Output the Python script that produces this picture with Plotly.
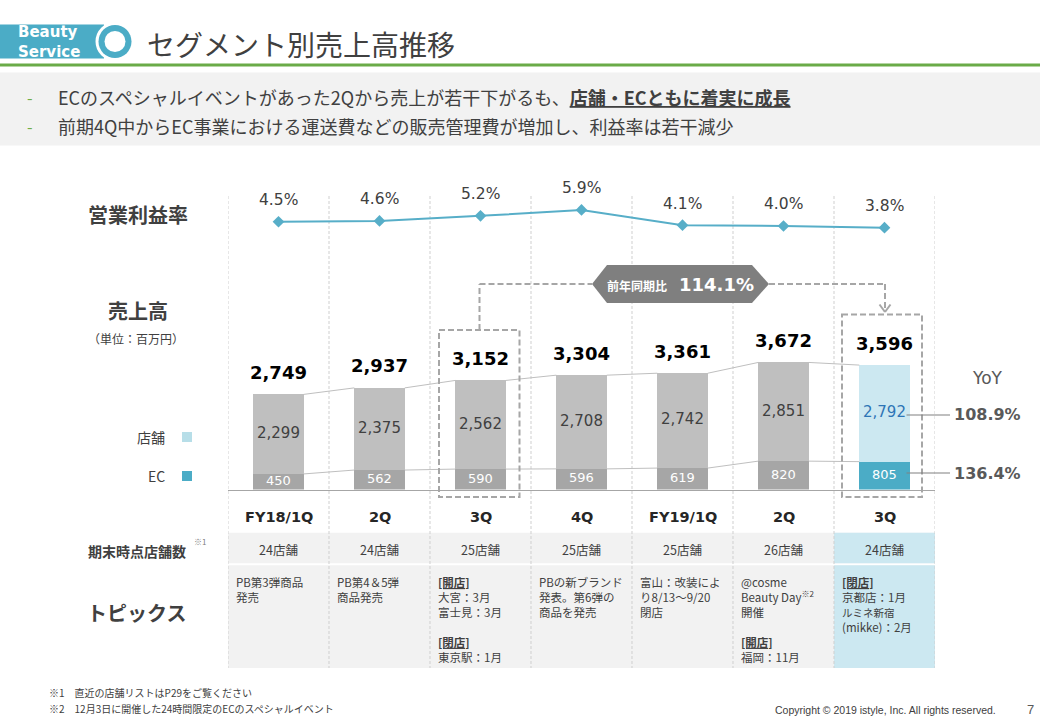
import plotly.graph_objects as go

W, H = 1040, 720
def X(px): return px / W
def Y(py): return 1 - py / H

# ---------------- data ----------------
categories = ["FY18/1Q", "2Q", "3Q", "4Q", "FY19/1Q", "2Q", "3Q"]
store_sales = [2299, 2375, 2562, 2708, 2742, 2851, 2792]
ec_sales = [450, 562, 590, 596, 619, 820, 805]
total_sales = [2749, 2937, 3152, 3304, 3361, 3672, 3596]
op_margin = [4.5, 4.6, 5.2, 5.9, 4.1, 4.0, 3.8]
store_counts = ["24店舗", "24店舗", "25店舗", "25店舗", "25店舗", "26店舗", "24店舗"]
topics = [
    "PB第3弾商品<br>発売",
    "PB第4＆5弾<br>商品発売",
    "<b><u>[開店]</u></b><br>大宮：3月<br>富士見：3月<br>　<br><b><u>[閉店]</u></b><br>東京駅：1月",
    "PBの新ブランド<br>発表。第6弾の<br>商品を発売",
    "富山：改装によ<br>り8/13～9/20<br>閉店",
    "@cosme<br>Beauty Day<sup>※2</sup><br>開催<br>　<br><b><u>[開店]</u></b><br>福岡：11月",
    "<b><u>[閉店]</u></b><br>京都店：1月<br><span style='font-size:10.5px'>ルミネ新宿</span><br>(mikke)：2月",
]
yoy_store = "108.9%"
yoy_ec = "136.4%"
yoy_total = "114.1%"

# ---------------- styles ----------------
JP = "Noto Sans CJK JP"
NUM = "DejaVu Sans"
TXT = "#404040"
TEAL = "#4BACC6"
n = len(categories)
xs = list(range(n))
store_colors = ["#BFBFBF"] * (n - 1) + ["#CCE8F1"]
ec_colors = ["#A6A6A6"] * (n - 1) + [TEAL]
store_lbl_colors = [TXT] * (n - 1) + ["#2E75B6"]

fig = go.Figure()

# bars
fig.add_trace(go.Bar(x=xs, y=ec_sales, width=0.5, marker=dict(color=ec_colors, line=dict(width=0)),
                     hoverinfo="skip", name="EC"))
fig.add_trace(go.Bar(x=xs, y=store_sales, width=0.5, marker=dict(color=store_colors, line=dict(width=0)),
                     hoverinfo="skip", name="店舗"))

# connector lines between bars
cx, cy_tot, cy_ec = [], [], []
for i in range(n - 1):
    cx += [i + 0.25, i + 0.75, None]
    cy_tot += [total_sales[i], total_sales[i + 1], None]
    cy_ec += [ec_sales[i], ec_sales[i + 1], None]
fig.add_trace(go.Scatter(x=cx, y=cy_tot, mode="lines", line=dict(color="#BFBFBF", width=1), hoverinfo="skip"))
fig.add_trace(go.Scatter(x=cx, y=cy_ec, mode="lines", line=dict(color="#BFBFBF", width=1), hoverinfo="skip"))

# in-bar labels
fig.add_trace(go.Scatter(x=xs, y=[e + s / 2 for e, s in zip(ec_sales, store_sales)], mode="text",
                         text=[f"{v:,}" for v in store_sales], textposition="middle center",
                         textfont=dict(family=NUM, size=15, color=store_lbl_colors), cliponaxis=False,
                         hoverinfo="skip"))
fig.add_trace(go.Scatter(x=xs, y=[e / 2 for e in ec_sales], mode="text",
                         text=[f"{v:,}" for v in ec_sales], textposition="middle center",
                         textfont=dict(family=NUM, size=13, color="white"), cliponaxis=False,
                         hoverinfo="skip"))

# operating margin line
fig.add_trace(go.Scatter(x=xs, y=op_margin, xaxis="x2", yaxis="y2", mode="lines+markers",
                         line=dict(color="#57AEC8", width=2),
                         marker=dict(symbol="diamond", size=9, color="#57AEC8"),
                         cliponaxis=False, hoverinfo="skip"))

bar_dom = [Y(489.5), Y(300)]
bar_range = [0, 189.5 / 0.0346]
line_dom = [Y(259.7), Y(180)]
line_range = [0, 79.7 / 8.43]

fig.update_layout(
    width=W, height=H, margin=dict(l=0, r=0, t=0, b=0), autosize=False,
    paper_bgcolor="white", plot_bgcolor="rgba(0,0,0,0)",
    showlegend=False, barmode="stack",
    xaxis=dict(domain=[X(228), X(935)], range=[-0.5, n - 0.5], showgrid=False, zeroline=False,
               showticklabels=False, ticks="", showline=True, linecolor="#A6A6A6", linewidth=1,
               fixedrange=True),
    yaxis=dict(domain=bar_dom, range=bar_range, visible=False, fixedrange=True),
    xaxis2=dict(domain=[X(228), X(935)], range=[-0.5, n - 0.5], anchor="y2", visible=False,
                fixedrange=True),
    yaxis2=dict(domain=line_dom, range=line_range, anchor="x2", visible=False, fixedrange=True),
)

shapes = []
ann = []

def line(x0, y0, x1, y1, color, width=1, dash=None, layer="above"):
    d = dict(type="line", xref="paper", yref="paper", x0=X(x0), y0=Y(y0), x1=X(x1), y1=Y(y1),
             line=dict(color=color, width=width), layer=layer)
    if dash:
        d["line"]["dash"] = dash
    shapes.append(d)

def rect(x0, y0, x1, y1, fill, lc=None, lw=0, dash=None, layer="below"):
    d = dict(type="rect", xref="paper", yref="paper", x0=X(x0), y0=Y(y0), x1=X(x1), y1=Y(y1),
             fillcolor=fill, line=dict(width=lw, color=lc or fill), layer=layer)
    if dash:
        d["line"]["dash"] = dash
    shapes.append(d)

def circle(cx_, cy_, r, fill):
    shapes.append(dict(type="circle", xref="paper", yref="paper", x0=X(cx_ - r), x1=X(cx_ + r),
                       y0=Y(cy_ + r), y1=Y(cy_ - r), fillcolor=fill, line=dict(width=0), layer="above"))

def text(x, y, s, size, color=TXT, family=JP, xanchor="center", yanchor="middle", align="center", **kw):
    ann.append(dict(xref="paper", yref="paper", x=X(x), y=Y(y), text=s, showarrow=False,
                    font=dict(family=family, size=size, color=color), xanchor=xanchor,
                    yanchor=yanchor, align=align, **kw))

# ---- header ----
rect(0, 24.5, 104, 58.5, TEAL, layer="above")
circle(115, 41.5, 19.5, "white")
circle(115, 41.5, 16.5, TEAL)
circle(115, 41.5, 10.5, "white")
text(16, 41.5, "<b>Beauty<br>Service</b>", 15, color="white", family="DejaVu Sans",
     xanchor="left", align="left")
text(145, 43.5, "セグメント別売上高推移", 28, xanchor="left")
rect(0, 63.5, 1040, 66.5, "#6AAB48", layer="above")
rect(0, 72.5, 1040, 145.5, "#F2F2F2")
text(25, 97, "-", 16, color="#70AD47", xanchor="left")
text(25, 126, "-", 16, color="#70AD47", xanchor="left")
text(56, 97, "ECのスペシャルイベントがあった2Qから売上が若干下がるも、<b><u>店舗・ECともに着実に成長</u></b>",
     18, xanchor="left")
text(56, 126, "前期4Q中からEC事業における運送費などの販売管理費が増加し、利益率は若干減少", 18, xanchor="left")

# ---- table backgrounds ----
rect(228, 532.7, 935, 563.3, "#F2F2F2")
rect(228, 565.2, 935, 668, "#F2F2F2")
rect(834, 532.7, 935, 563.3, "#CCE8F1")
rect(834, 565.2, 935, 668, "#CCE8F1")

# vertical dotted column separators
for i in range(n + 1):
    shapes.append(dict(type="line", xref="x", yref="paper", x0=i - 0.5, x1=i - 0.5,
                       y0=Y(196), y1=Y(668), line=dict(color="#CFCFCF", width=1, dash="3px,2px"),
                       layer="below"))

# ---- left labels ----
text(137.5, 214, "<b>営業利益率</b>", 20)
text(138, 310, "<b>売上高</b>", 20)
text(136, 338, "（単位：百万円）", 12)
text(167, 437, "店舗", 14, xanchor="right")
text(167, 476, "EC", 14, xanchor="right")
rect(182, 432, 192, 442, "#B7DEE8", layer="above")
rect(182, 471, 192, 481, TEAL, layer="above")
text(136.5, 550.7, "<b>期末時点店舗数</b>", 14)
text(192, 541.5, "※1", 8, color="#808080", xanchor="left")
text(136.5, 612, "<b>トピックス</b>", 20)

# ---- per-column annotations ----
for i in range(n):
    ann.append(dict(xref="x", yref="paper", x=i, y=Y(517), text=f"<b>{categories[i]}</b>",
                    showarrow=False, font=dict(family=NUM, size=14.5, color="#262626"),
                    xanchor="center", yanchor="middle"))
    ann.append(dict(xref="x", yref="y", x=i, y=total_sales[i], yshift=22, text=f"<b>{total_sales[i]:,}</b>",
                    showarrow=False, font=dict(family=NUM, size=18, color="#000000"),
                    xanchor="center", yanchor="middle"))
    ann.append(dict(xref="x2", yref="y2", x=i, y=op_margin[i], yshift=21.5, text=f"{op_margin[i]:.1f}%",
                    showarrow=False, font=dict(family=NUM, size=15.5, color=TXT),
                    xanchor="center", yanchor="middle"))
    ann.append(dict(xref="x", yref="paper", x=i, y=Y(549), text=store_counts[i], showarrow=False,
                    font=dict(family=JP, size=12.5, color=TXT), xanchor="center", yanchor="middle"))
    ann.append(dict(xref="x", yref="paper", x=i - 0.5, xshift=6, y=Y(572), text=topics[i], showarrow=False,
                    font=dict(family=JP, size=11.5, color=TXT), xanchor="left", yanchor="top",
                    align="left"))

# ---- dashed highlight boxes and callout ----
GRAYD = "#A6A6A6"
rect(439, 330, 519.5, 497, "rgba(0,0,0,0)", lc=GRAYD, lw=2, dash="6px,3px", layer="above")
rect(842, 314.5, 922, 497, "rgba(0,0,0,0)", lc=GRAYD, lw=2, dash="6px,3px", layer="above")
line(479.5, 330, 479.5, 284, GRAYD, 2, "6px,3px")
line(479.5, 284, 592, 284, GRAYD, 2, "6px,3px")
line(769, 284, 885, 284, GRAYD, 2, "6px,3px")
line(885, 284, 885, 311, GRAYD, 2, "6px,3px")
line(879.5, 304.5, 885, 312, GRAYD, 2)
line(890.5, 304.5, 885, 312, GRAYD, 2)
pts = [(592, 284), (607, 265), (752, 265), (769, 284), (752, 303), (607, 303)]
path = "M " + " L ".join(f"{X(px):.5f},{Y(py):.5f}" for px, py in pts) + " Z"
shapes.append(dict(type="path", xref="paper", yref="paper", path=path, fillcolor="#7F7F7F",
                   line=dict(width=0), layer="above"))
text(636.5, 286, "<b>前年同期比</b>", 12, color="white")
text(716.5, 285, f"<b>{yoy_total}</b>", 18, color="white", family=NUM)

# ---- YoY ----
text(987, 378, "YoY", 17, color="#595959", family=NUM)
line(906.5, 415, 950, 415, "#808080", 1.2)
line(906.5, 473, 950, 473, "#808080", 1.2)
text(987, 415, f"<b>{yoy_store}</b>", 16, color="#595959", family=NUM)
text(987, 473, f"<b>{yoy_ec}</b>", 16, color="#595959", family=NUM)

# ---- footnotes ----
text(47, 692.5, "※1　直近の店舗リストはP29をご覧ください", 10, xanchor="left")
text(47, 708, "※2　12月3日に開催した24時間限定のECのスペシャルイベント", 10, xanchor="left")
text(998, 709.5, "Copyright © 2019 istyle, Inc. All rights reserved.", 10.5, family="Liberation Sans",
     xanchor="right")
text(1030, 709, "7", 13, family="Liberation Sans", color="#595959")

fig.update_layout(shapes=shapes, annotations=ann)
fig.write_html("out.html", config={"displayModeBar": False},
               post_script="document.body.style.margin='0px';document.body.style.overflow='hidden';")
